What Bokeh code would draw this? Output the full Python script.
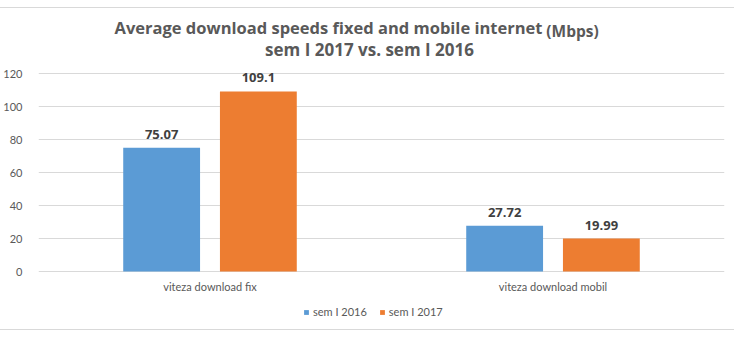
from bokeh.plotting import figure
from bokeh.models import (ColumnDataSource, LabelSet, Label, Legend, LegendItem,
                          FactorRange, Range1d)
from bokeh.core.properties import value
from bokeh.transform import dodge
from bokeh.layouts import column
from bokeh.embed import file_html
from bokeh.resources import INLINE

categories = ["viteza download fix", "viteza download mobil"]
series_names = ["sem I 2016", "sem I 2017"]
sem1_2016 = [75.07, 27.72]
sem1_2017 = [109.1, 19.99]
y_ticks = [0, 20, 40, 60, 80, 100, 120]

BLUE = "#5B9BD5"
ORANGE = "#ED7D31"
FONT = "Lato"
TFONT = "Open Sans"

# layout in pixels: frame spans the whole figure height; value axis 0..120 occupies
# 198 px, with 65 px above (titles) and 58 px below (category labels, legend)
FIG_H = 321
PX_ABOVE, PX_BELOW, PX_AXIS = 65, 58, 198
ppu = PX_AXIS / y_ticks[-1]
y_range = Range1d(-PX_BELOW / ppu, y_ticks[-1] + PX_ABOVE / ppu)

src = ColumnDataSource(dict(
    cat=categories,
    a=sem1_2016,
    b=sem1_2017,
    zero=[0] * len(categories),
    a_lbl=[f"{v:g}" for v in sem1_2016],
    b_lbl=[f"{v:g}" for v in sem1_2017],
))

p = figure(width=734, height=FIG_H, x_range=FactorRange(*categories), y_range=y_range,
           output_backend="svg", toolbar_location=None,
           min_border_left=36, min_border_right=10, min_border_top=0, min_border_bottom=0)

r1 = p.vbar(x=dodge("cat", -0.141, range=p.x_range), top="a", width=0.224, source=src,
            color=BLUE, line_color=None)
r2 = p.vbar(x=dodge("cat", 0.141, range=p.x_range), top="b", width=0.224, source=src,
            color=ORANGE, line_color=None)

for col, lbl, off in (("a", "a_lbl", -0.141), ("b", "b_lbl", 0.141)):
    p.add_layout(LabelSet(x=dodge("cat", off, range=p.x_range), y=col, text=lbl, source=src,
                          text_align="center", text_baseline="alphabetic", y_offset=9,
                          text_font=value(TFONT), text_font_style="bold",
                          text_font_size="13px", text_color="#404040"))

# category labels (x axis)
p.add_layout(LabelSet(x="cat", y="zero", text="cat", source=src, text_align="center",
                      text_baseline="middle", y_offset=-15, text_font=value(FONT),
                      text_font_size="11px", text_color="#595959"))
p.xaxis.visible = False

p.xgrid.grid_line_color = None
p.ygrid.grid_line_color = "#d9d9d9"
p.ygrid.ticker = y_ticks
p.yaxis.ticker = y_ticks
p.yaxis.axis_line_color = None
p.yaxis.major_tick_line_color = None
p.yaxis.minor_tick_line_color = None
p.yaxis.major_label_text_color = "#595959"
p.yaxis.major_label_text_font = FONT
p.yaxis.major_label_text_font_size = "11px"
p.yaxis.major_label_standoff = 10
p.outline_line_color = None

legend = Legend(items=[LegendItem(label=series_names[0], renderers=[r1]),
                       LegendItem(label=series_names[1], renderers=[r2])],
                orientation="horizontal", location=(265, 11),
                glyph_width=6, glyph_height=6, label_text_font=FONT,
                label_text_font_size="11px", label_text_color="#595959",
                border_line_color=None, background_fill_alpha=0,
                spacing=12, label_standoff=4, padding=0, margin=0)
p.add_layout(legend, "center")

p.add_layout(Label(x=290, y=302, x_units="screen", y_units="screen",
                   text="Average download speeds fixed and mobile internet",
                   text_align="center", text_baseline="alphabetic", text_font=TFONT,
                   text_font_style="bold", text_font_size="16.5px", text_color="#595959"))
p.add_layout(Label(x=534, y=299, x_units="screen", y_units="screen", text="(Mbps)",
                   text_align="center", text_baseline="alphabetic", text_font=TFONT,
                   text_font_style="bold", text_font_size="15.5px", text_color="#595959"))
p.add_layout(Label(x=331, y=280, x_units="screen", y_units="screen",
                   text="sem I 2017 vs. sem I 2016",
                   text_align="center", text_baseline="alphabetic", text_font=TFONT,
                   text_font_style="bold", text_font_size="17px", text_color="#595959"))

layout = column(p, styles={"border-top": "1px solid #d9d9d9",
                           "border-bottom": "1px solid #d9d9d9",
                           "margin-top": "7px"})

open("out.html", "w").write(file_html(layout, INLINE))
